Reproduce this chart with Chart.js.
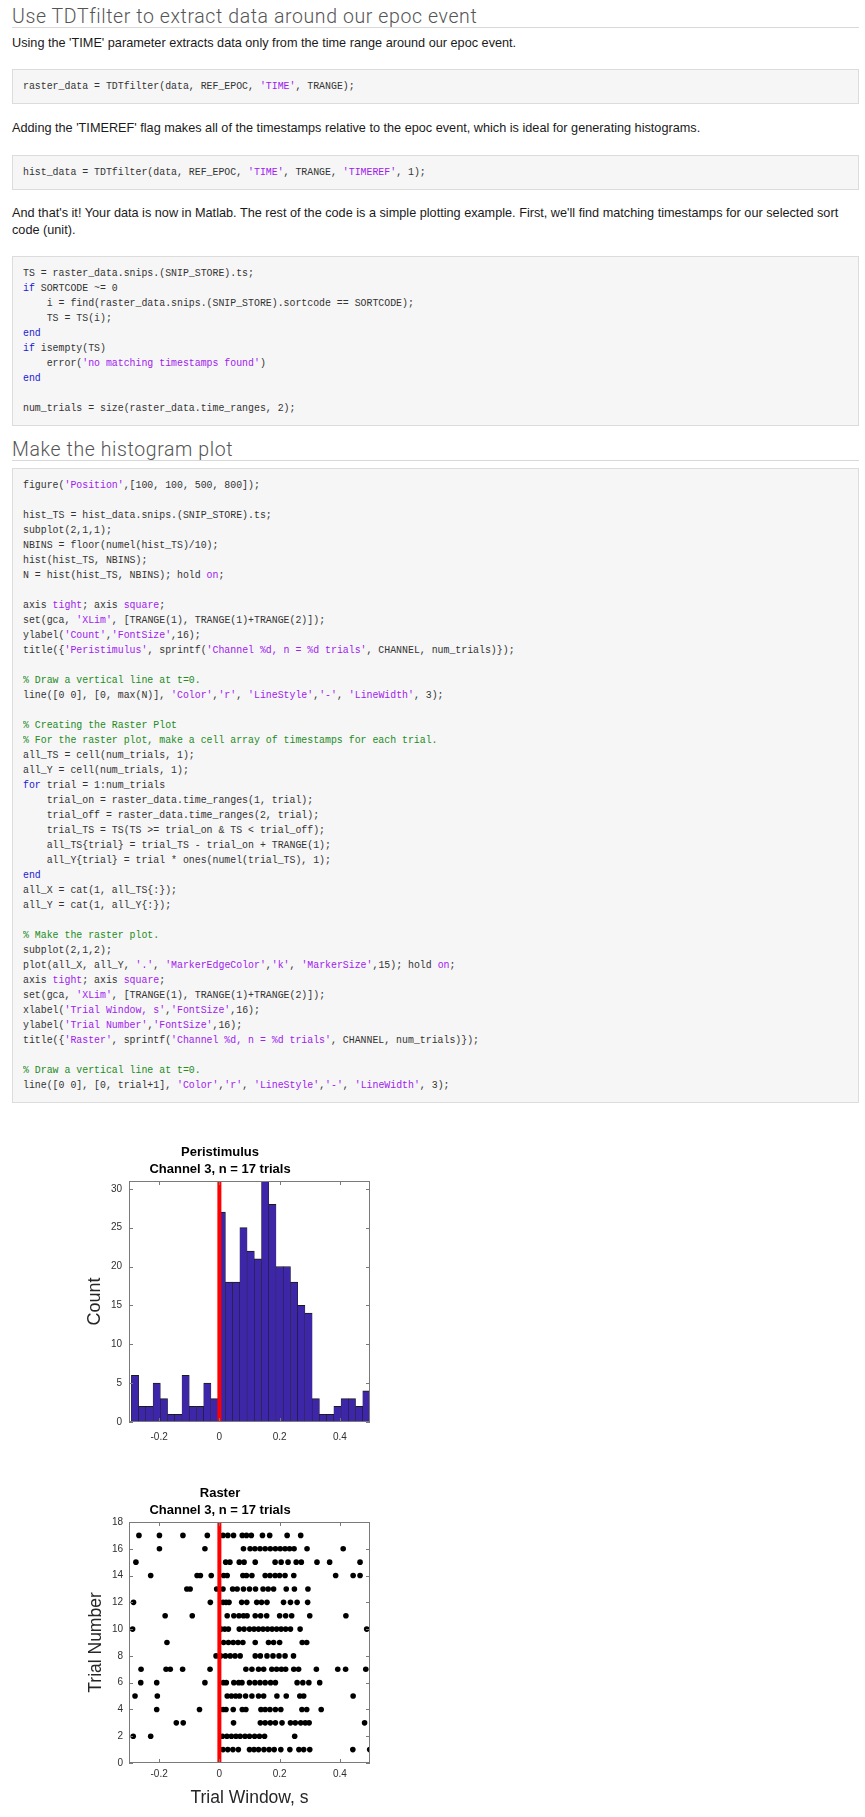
<!DOCTYPE html>
<html lang="en">
<head>
    <meta charset="UTF-8">
    <title>TDTfilter raster and histogram</title>
    <script src="https://cdn.jsdelivr.net/npm/chart.js"></script>
    <style>
        html, body { margin: 0; padding: 0; background: #fff; overflow: hidden; }
        .page {
            position: relative;
            margin: 0 6px 0 12px;
            width: 847px;
            font-family: "Liberation Sans", Arial, sans-serif;
            font-size: 12.7px;
            color: #1a1a1a;
        }
        h2 {
            margin: 7px 0 0;
            padding-top: 7px;
            height: 20px;
            line-height: 20px;
            font-family: Roboto, sans-serif;
            font-weight: 300;
            font-size: 19.5px;
            letter-spacing: 0.6px;
            color: #555;
            border-bottom: 1px solid #d9d9d9;
        }
        h2.first { margin-top: 0; }
        p { margin: 0; line-height: 17px; }
        .code {
            margin: 0;
            padding: 9px 10px;
            border: 1px solid #dcdcdc;
            background: #f6f6f6;
            font-family: "Liberation Mono", "DejaVu Sans Mono", monospace;
            font-size: 10.8px;
            line-height: 15px;
            color: #333;
        }
        .code .inner { transform: scaleX(0.914); transform-origin: 0 0; }
        .code .inner div { height: 15px; white-space: pre; }
        .k { color: #1a1ad6; }
        .s { color: #a020f0; }
        .c { color: #228b22; }
        .fig { position: absolute; left: 70px; }
    </style>
</head>
<body>
<div class="page">
    <h2 class="first">Use TDTfilter to extract data around our epoc event</h2>
    <p style="margin-top:7px">Using the 'TIME' parameter extracts data only from the time range around our epoc event.</p>
    <div class="code" style="margin-top:17px"><div class="inner"><div>raster_data = TDTfilter(data, REF_EPOC, <span class="s">'TIME'</span>, TRANGE);</div></div></div>
    <p style="margin-top:16px">Adding the 'TIMEREF' flag makes all of the timestamps relative to the epoc event, which is ideal for generating histograms.</p>
    <div class="code" style="margin-top:18px"><div class="inner"><div>hist_data = TDTfilter(data, REF_EPOC, <span class="s">'TIME'</span>, TRANGE, <span class="s">'TIMEREF'</span>, 1);</div></div></div>
    <p style="margin-top:15px">And that's it! Your data is now in Matlab. The rest of the code is a simple plotting example. First, we'll find matching timestamps for our selected sort code (unit).</p>
    <div class="code" style="margin-top:17px"><div class="inner">
<div>TS = raster_data.snips.(SNIP_STORE).ts;</div>
<div><span class="k">if</span> SORTCODE ~= 0</div>
<div>    i = find(raster_data.snips.(SNIP_STORE).sortcode == SORTCODE);</div>
<div>    TS = TS(i);</div>
<div><span class="k">end</span></div>
<div><span class="k">if</span> isempty(TS)</div>
<div>    error(<span class="s">'no matching timestamps found'</span>)</div>
<div><span class="k">end</span></div>
<div></div>
<div>num_trials = size(raster_data.time_ranges, 2);</div>
</div></div>
    <h2>Make the histogram plot</h2>
    <div class="code" style="margin-top:7px"><div class="inner">
<div>figure(<span class="s">'Position'</span>,[100, 100, 500, 800]);</div>
<div></div>
<div>hist_TS = hist_data.snips.(SNIP_STORE).ts;</div>
<div>subplot(2,1,1);</div>
<div>NBINS = floor(numel(hist_TS)/10);</div>
<div>hist(hist_TS, NBINS);</div>
<div>N = hist(hist_TS, NBINS); hold <span class="s">on</span>;</div>
<div></div>
<div>axis <span class="s">tight</span>; axis <span class="s">square</span>;</div>
<div>set(gca, <span class="s">'XLim'</span>, [TRANGE(1), TRANGE(1)+TRANGE(2)]);</div>
<div>ylabel(<span class="s">'Count'</span>,<span class="s">'FontSize'</span>,16);</div>
<div>title({<span class="s">'Peristimulus'</span>, sprintf(<span class="s">'Channel %d, n = %d trials'</span>, CHANNEL, num_trials)});</div>
<div></div>
<div><span class="c">% Draw a vertical line at t=0.</span></div>
<div>line([0 0], [0, max(N)], <span class="s">'Color'</span>,<span class="s">'r'</span>, <span class="s">'LineStyle'</span>,<span class="s">'-'</span>, <span class="s">'LineWidth'</span>, 3);</div>
<div></div>
<div><span class="c">% Creating the Raster Plot</span></div>
<div><span class="c">% For the raster plot, make a cell array of timestamps for each trial.</span></div>
<div>all_TS = cell(num_trials, 1);</div>
<div>all_Y = cell(num_trials, 1);</div>
<div><span class="k">for</span> trial = 1:num_trials</div>
<div>    trial_on = raster_data.time_ranges(1, trial);</div>
<div>    trial_off = raster_data.time_ranges(2, trial);</div>
<div>    trial_TS = TS(TS &gt;= trial_on &amp; TS &lt; trial_off);</div>
<div>    all_TS{trial} = trial_TS - trial_on + TRANGE(1);</div>
<div>    all_Y{trial} = trial * ones(numel(trial_TS), 1);</div>
<div><span class="k">end</span></div>
<div>all_X = cat(1, all_TS{:});</div>
<div>all_Y = cat(1, all_Y{:});</div>
<div></div>
<div><span class="c">% Make the raster plot.</span></div>
<div>subplot(2,1,2);</div>
<div>plot(all_X, all_Y, <span class="s">'.'</span>, <span class="s">'MarkerEdgeColor'</span>,<span class="s">'k'</span>, <span class="s">'MarkerSize'</span>,15); hold <span class="s">on</span>;</div>
<div>axis <span class="s">tight</span>; axis <span class="s">square</span>;</div>
<div>set(gca, <span class="s">'XLim'</span>, [TRANGE(1), TRANGE(1)+TRANGE(2)]);</div>
<div>xlabel(<span class="s">'Trial Window, s'</span>,<span class="s">'FontSize'</span>,16);</div>
<div>ylabel(<span class="s">'Trial Number'</span>,<span class="s">'FontSize'</span>,16);</div>
<div>title({<span class="s">'Raster'</span>, sprintf(<span class="s">'Channel %d, n = %d trials'</span>, CHANNEL, num_trials)});</div>
<div></div>
<div><span class="c">% Draw a vertical line at t=0.</span></div>
<div>line([0 0], [0, trial+1], <span class="s">'Color'</span>,<span class="s">'r'</span>, <span class="s">'LineStyle'</span>,<span class="s">'-'</span>, <span class="s">'LineWidth'</span>, 3);</div>
</div></div>
</div>

<div class="fig" style="top:1138px"><canvas id="histChart" width="320" height="309"></canvas></div>
<div class="fig" style="top:1479px"><canvas id="rasterChart" width="320" height="335"></canvas></div>

<script>
    // axis limits and ticks (TRANGE window)
    const X_MIN = -0.3;
    const X_MAX = 0.5;
    const xTicks = [-0.2, 0, 0.2, 0.4];
    const histYTicks = [0, 5, 10, 15, 20, 25, 30];
    const rasterYTicks = [0, 2, 4, 6, 8, 10, 12, 14, 16, 18];

    // histogram: 33 bins between the first and last timestamp
    const HIST_MIN = -0.292;
    const HIST_MAX = 0.5;
    const histCounts = [6, 2, 2, 5, 3, 1, 1, 6, 2, 2, 5, 3,
                        27, 18, 18, 25, 22, 21, 31, 28, 20, 20, 18, 15, 14,
                        3, 1, 1, 2, 3, 3, 2, 4];
    const histMax = 31;

    // raster: spike times (s) for each trial
    const trial01 = [0.012, 0.028, 0.045, 0.063, 0.1, 0.115, 0.13, 0.148, 0.165, 0.182, 0.204, 0.234, 0.264, 0.28, 0.3, 0.443, 0.499];
    const trial02 = [-0.286, -0.228, 0.01, 0.025, 0.04, 0.055, 0.069, 0.085, 0.1, 0.117, 0.133, 0.15, 0.25];
    const trial03 = [-0.143, -0.12, 0.047, 0.136, 0.152, 0.169, 0.186, 0.208, 0.236, 0.252, 0.27, 0.285, 0.298, 0.482];
    const trial04 = [-0.208, -0.066, 0.012, 0.022, 0.046, 0.076, 0.088, 0.138, 0.152, 0.168, 0.186, 0.204, 0.274, 0.29, 0.338];
    const trial05 = [-0.28, -0.206, 0.026, 0.04, 0.054, 0.067, 0.087, 0.108, 0.13, 0.147, 0.191, 0.222, 0.267, 0.28, 0.444];
    const trial06 = [-0.261, -0.208, -0.048, 0.013, 0.023, 0.048, 0.064, 0.075, 0.1, 0.118, 0.135, 0.152, 0.17, 0.186, 0.258, 0.277, 0.297, 0.333];
    const trial07 = [-0.26, -0.177, -0.163, -0.122, -0.031, 0.088, 0.108, 0.13, 0.147, 0.174, 0.19, 0.206, 0.22, 0.247, 0.263, 0.322, 0.393, 0.419, 0.486];
    const trial08 = [-0.011, 0.004, 0.02, 0.036, 0.052, 0.069, 0.119, 0.136, 0.158, 0.178, 0.198, 0.218, 0.246];
    const trial09 = [-0.174, 0.014, 0.03, 0.046, 0.062, 0.078, 0.119, 0.163, 0.18, 0.2, 0.275, 0.29];
    const trial10 = [-0.288, 0.006, 0.018, 0.03, 0.066, 0.082, 0.1, 0.115, 0.13, 0.145, 0.16, 0.175, 0.19, 0.205, 0.22, 0.236, 0.268, 0.489];
    const trial11 = [-0.18, -0.09, 0.026, 0.048, 0.065, 0.08, 0.092, 0.119, 0.137, 0.157, 0.2, 0.22, 0.24, 0.3, 0.42];
    const trial12 = [-0.285, -0.03, 0.012, 0.022, 0.032, 0.074, 0.091, 0.124, 0.14, 0.158, 0.213, 0.236, 0.258, 0.293];
    const trial13 = [-0.108, -0.097, -0.009, 0.012, 0.044, 0.059, 0.08, 0.1, 0.12, 0.145, 0.162, 0.18, 0.222, 0.249, 0.294];
    const trial14 = [-0.228, -0.074, -0.063, -0.027, 0.014, 0.026, 0.078, 0.09, 0.108, 0.152, 0.168, 0.185, 0.2, 0.218, 0.247, 0.386, 0.444, 0.467];
    const trial15 = [-0.277, 0.021, 0.035, 0.066, 0.082, 0.119, 0.185, 0.205, 0.228, 0.255, 0.272, 0.324, 0.366, 0.467];
    const trial16 = [-0.199, -0.048, 0.08, 0.102, 0.118, 0.135, 0.152, 0.169, 0.186, 0.202, 0.218, 0.233, 0.248, 0.291, 0.411];
    const trial17 = [-0.267, -0.199, -0.121, -0.04, 0.012, 0.028, 0.047, 0.076, 0.09, 0.106, 0.143, 0.167, 0.225, 0.27];
    const trials = [trial01, trial02, trial03, trial04, trial05, trial06, trial07, trial08, trial09,
                    trial10, trial11, trial12, trial13, trial14, trial15, trial16, trial17];

    const histTitle = ['Peristimulus', 'Channel 3, n = 17 trials'];
    const rasterTitle = ['Raster', 'Channel 3, n = 17 trials'];

    const TICK_COLOR = '#303030';
    const BAR_COLOR = 'rgb(62, 38, 168)';

    Chart.defaults.font.family = '"Liberation Sans", Arial, Helvetica, sans-serif';
    Chart.defaults.animation = false;

    // matlab style box with inward ticks on all four sides
    const matlabBox = {
        id: 'matlabBox',
        afterDatasetsDraw(chart) {
            const { ctx, chartArea: a, scales: { x, y } } = chart;
            const len = 4;
            ctx.save();
            ctx.strokeStyle = '#7a7a7a';
            ctx.lineWidth = 1;
            ctx.strokeRect(a.left + 0.5, a.top + 0.5, a.width - 1, a.height - 1);
            ctx.beginPath();
            x.ticks.forEach(t => {
                const px = Math.round(x.getPixelForValue(t.value)) + 0.5;
                ctx.moveTo(px, a.bottom); ctx.lineTo(px, a.bottom - len);
                ctx.moveTo(px, a.top); ctx.lineTo(px, a.top + len);
            });
            y.ticks.forEach(t => {
                const py = Math.round(y.getPixelForValue(t.value)) + 0.5;
                ctx.moveTo(a.left, py); ctx.lineTo(a.left + len, py);
                ctx.moveTo(a.right, py); ctx.lineTo(a.right - len, py);
            });
            ctx.stroke();
            ctx.restore();
        }
    };

    function xScale(padding, title) {
        return {
            type: 'linear',
            min: X_MIN,
            max: X_MAX,
            offset: false,
            grid: { display: false, drawTicks: false },
            border: { display: false },
            afterBuildTicks: s => { s.ticks = xTicks.map(v => ({ value: v })); },
            afterFit: s => { s.height = title ? 51 : 25; },
            ticks: { padding: padding, color: TICK_COLOR, font: { size: 10 }, callback: v => String(v) },
            title: title
        };
    }

    function yScale(max, tickList, padding, title) {
        return {
            type: 'linear',
            min: 0,
            max: max,
            grid: { display: false, drawTicks: false },
            border: { display: false },
            afterBuildTicks: s => { s.ticks = tickList.map(v => ({ value: v })); },
            afterFit: s => { s.width = 59; },
            ticks: { padding: padding, color: TICK_COLOR, font: { size: 10 }, callback: v => String(v) },
            title: title
        };
    }

    function titleOptions(text) {
        return {
            display: true,
            text: text,
            color: '#000',
            font: { size: 13, weight: 'bold', lineHeight: 17 / 13 },
            padding: { top: 0, bottom: 3 }
        };
    }

    // histogram
    const binWidth = (HIST_MAX - HIST_MIN) / histCounts.length;
    const histPoints = histCounts.map((c, i) => ({ x: HIST_MIN + (i + 0.5) * binWidth, y: c }));

    new Chart(document.getElementById('histChart'), {
        type: 'bar',
        data: {
            datasets: [
                {
                    type: 'line',
                    data: [{ x: 0, y: 0 }, { x: 0, y: histMax }],
                    borderColor: '#ff0000',
                    borderWidth: 4,
                    borderCapStyle: 'butt',
                    pointRadius: 0,
                    order: 0
                },
                {
                    data: histPoints,
                    backgroundColor: BAR_COLOR,
                    borderColor: '#1b1b1b',
                    borderWidth: { left: 0.5, right: 0.5, top: 1 },
                    barPercentage: 1,
                    categoryPercentage: 1,
                    order: 1
                }
            ]
        },
        options: {
            responsive: false,
            layout: { padding: { top: 6, right: 20, bottom: 0, left: 0 } },
            plugins: {
                legend: { display: false },
                tooltip: { enabled: false },
                title: titleOptions(histTitle)
            },
            scales: {
                x: xScale(9),
                y: yScale(histMax, histYTicks, 7, {
                    display: true, text: 'Count', color: '#262626',
                    font: { size: 18 }, padding: { top: 14, bottom: 0 }
                })
            }
        },
        plugins: [matlabBox]
    });

    // raster
    const rasterPoints = [];
    trials.forEach((times, i) => times.forEach(t => rasterPoints.push({ x: t, y: i + 1 })));

    new Chart(document.getElementById('rasterChart'), {
        type: 'scatter',
        data: {
            datasets: [
                {
                    type: 'line',
                    data: [{ x: 0, y: 0 }, { x: 0, y: trials.length + 1 }],
                    borderColor: '#ff0000',
                    borderWidth: 4,
                    borderCapStyle: 'butt',
                    pointRadius: 0,
                    order: 0
                },
                {
                    data: rasterPoints,
                    backgroundColor: '#000',
                    borderWidth: 0,
                    pointRadius: 2.8,
                    order: 1
                }
            ]
        },
        options: {
            responsive: false,
            layout: { padding: { top: 6, right: 20, bottom: 0, left: 0 } },
            plugins: {
                legend: { display: false },
                tooltip: { enabled: false },
                title: titleOptions(rasterTitle)
            },
            scales: {
                x: xScale(5, {
                    display: true, text: 'Trial Window, s', color: '#262626',
                    font: { size: 17.5 }, padding: { top: 0, bottom: 5.5 }
                }),
                y: yScale(18, rasterYTicks, 6, {
                    display: true, text: 'Trial Number', color: '#262626',
                    font: { size: 17.5 }, padding: { top: 16, bottom: 0 }
                })
            }
        },
        plugins: [matlabBox]
    });
</script>
</body>
</html>
